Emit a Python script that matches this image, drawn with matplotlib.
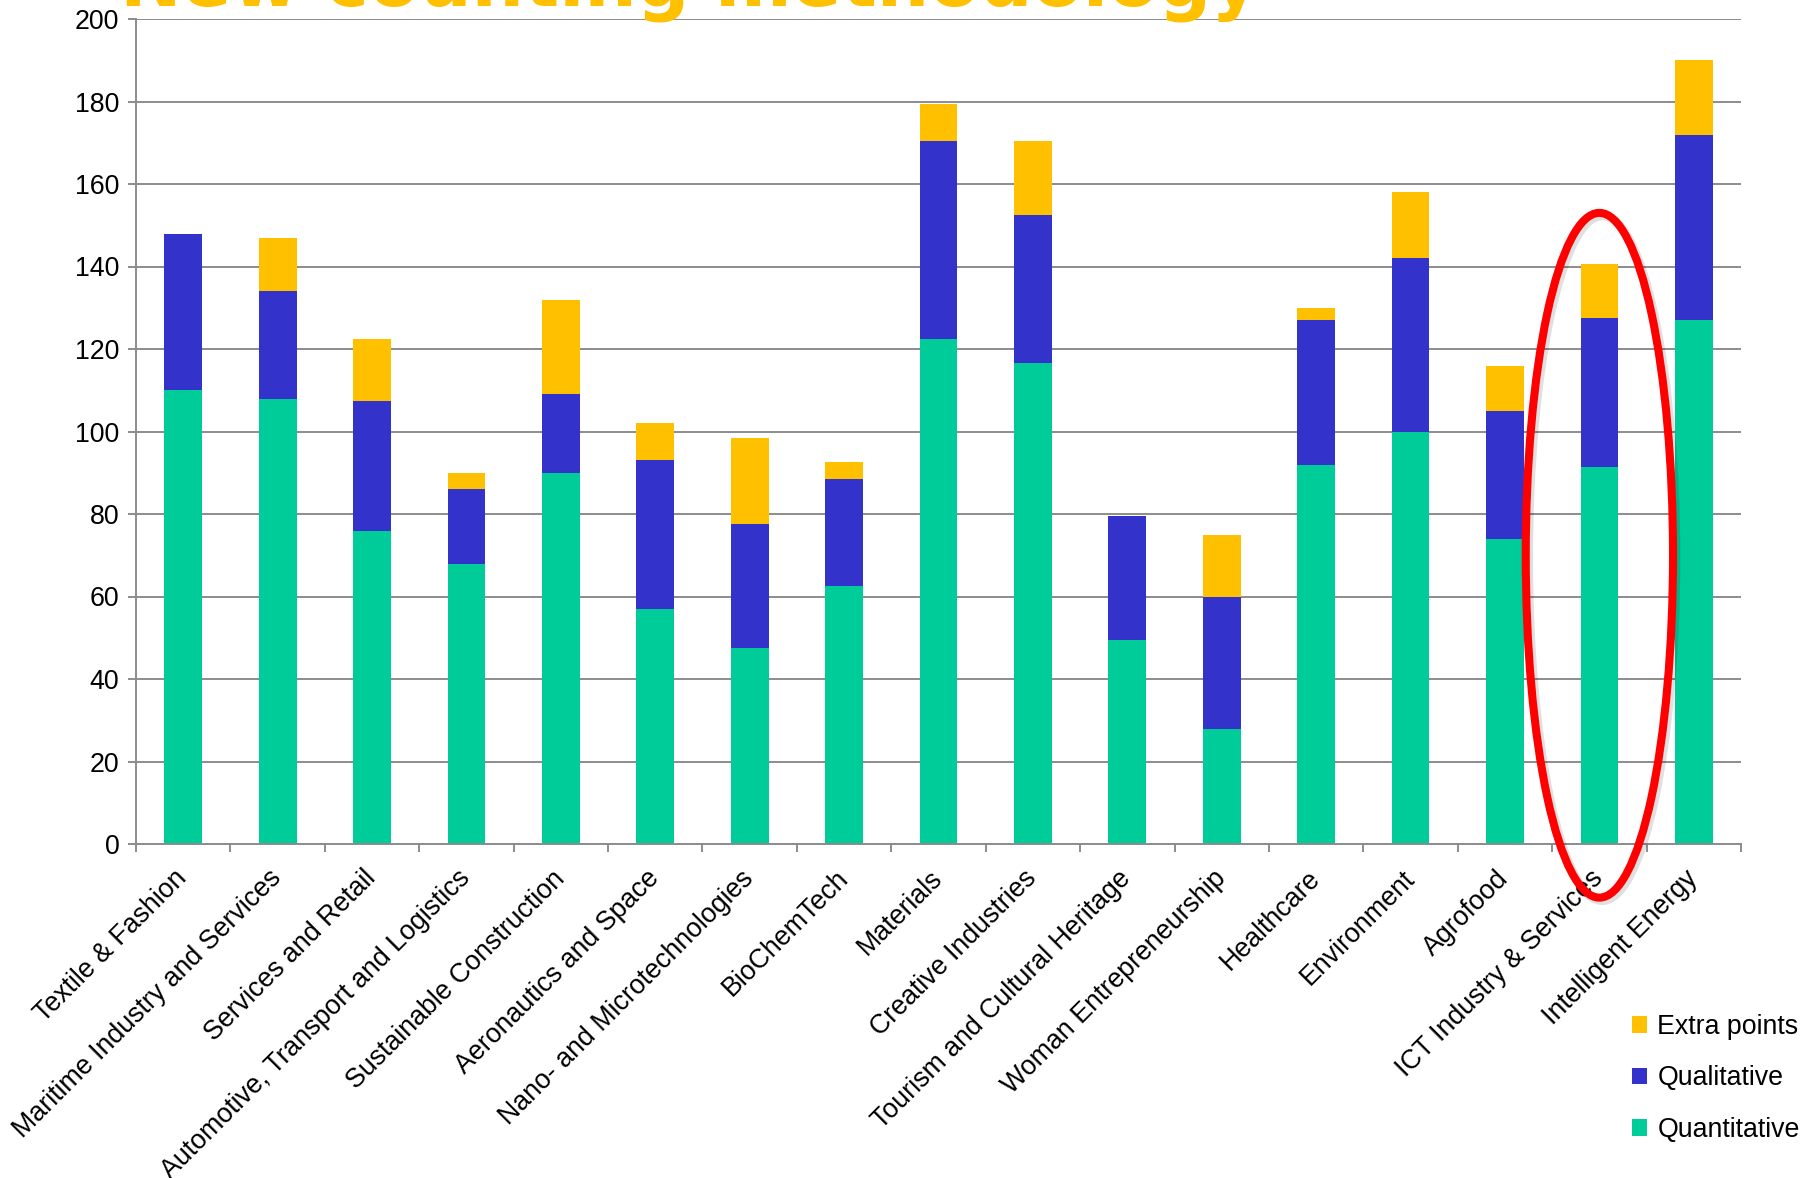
import matplotlib.pyplot as plt
from matplotlib.patches import Ellipse
import numpy as np

plt.rcParams['font.family'] = ['Liberation Sans', 'DejaVu Sans']

categories = [
    "Textile & Fashion", "Maritime Industry and Services", "Services and Retail",
    "Automotive, Transport and Logistics", "Sustainable Construction",
    "Aeronautics and Space", "Nano- and Microtechnologies", "BioChemTech",
    "Materials", "Creative Industries", "Tourism and Cultural Heritage",
    "Woman Entrepreneurship", "Healthcare", "Environment", "Agrofood",
    "ICT Industry & Services", "Intelligent Energy",
]
quantitative = [110, 108, 76, 68, 90, 57, 47.5, 62.5, 122.5, 116.5, 49.5, 28, 92, 100, 74, 91.5, 127]
qualitative = [38, 26, 31.5, 18, 19, 36, 30, 26, 48, 36, 30, 32, 35, 42, 31, 36, 45]
extra = [0, 13, 15, 4, 23, 9, 21, 4, 9, 18, 0, 15, 3, 16, 11, 13, 18]

highlight = "ICT Industry & Services"

c_quant = '#00CC99'
c_qual = '#3333CC'
c_extra = '#FFC000'
grey = '#8C8C8C'
fs = 19.3

fig = plt.figure(figsize=(18.16, 11.78), dpi=100)
ax = fig.add_axes([136 / 1816, 1 - 844 / 1178, (1741 - 136) / 1816, (844 - 19) / 1178])

x = np.arange(len(categories))
quant = np.array(quantitative)
qual = np.array(qualitative)
w = 0.4
b1 = ax.bar(x, quant, w, color=c_quant, label='Quantitative')
b2 = ax.bar(x, qual, w, bottom=quant, color=c_qual, label='Qualitative')
b3 = ax.bar(x, extra, w, bottom=quant + qual, color=c_extra, label='Extra points')

ax.set_xlim(-0.5, len(categories) - 0.5)
ax.set_ylim(0, 200)
ax.set_yticks(np.arange(0, 201, 20))
ax.yaxis.grid(True, color=grey, linewidth=1.4)
ax.set_axisbelow(True)

for s in ('top', 'right'):
    ax.spines[s].set_visible(False)
for s in ('left', 'bottom'):
    ax.spines[s].set_color(grey)
    ax.spines[s].set_linewidth(1.4)

ax.tick_params(axis='y', length=6, width=1.4, color=grey, labelsize=fs, pad=6)
ax.set_xticks(x)
ax.set_xticklabels(categories, rotation=45, ha='right', va='center',
                   rotation_mode='anchor', fontsize=fs)
ax.tick_params(axis='x', which='major', length=0, pad=22)
ax.set_xticks(np.arange(-0.5, len(categories)), minor=True)
ax.tick_params(axis='x', which='minor', length=6, width=1.4, color=grey)

# red ring around the highlighted sector
i = categories.index(highlight)
shadow = Ellipse((i + 0.03, 69.3), 1.56, 166, fill=False, edgecolor='#000000',
                 linewidth=6.5, alpha=0.12, clip_on=False, zorder=4)
ax.add_patch(shadow)
ring = Ellipse((i, 70), 1.56, 166, fill=False, edgecolor='#FF0000',
               linewidth=5.8, clip_on=False, zorder=5)
ax.add_patch(ring)

fig.text(120 / 1816, 1 - 6 / 1178, "New counting methodology", family='DejaVu Sans',
         fontweight='bold', fontsize=53, color=c_extra, ha='left', va='baseline')

fig.legend(handles=[b3, b2, b1], loc='upper left',
           bbox_to_anchor=(1632 / 1816, 1 - 1014 / 1178), frameon=False,
           fontsize=fs, handlelength=0.55, handleheight=0.55, handletextpad=0.4,
           labelspacing=0.95, borderpad=0, borderaxespad=0)

fig.savefig('out.png', dpi=100)
